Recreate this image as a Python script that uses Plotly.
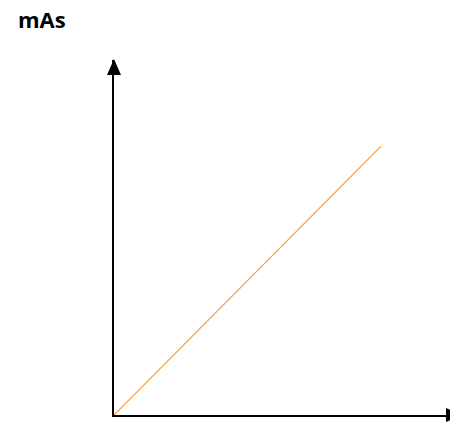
import plotly.graph_objects as go

# data: mAs rising linearly
x_vals = [0, 100]
y_vals = [0, 100]
y_label = "mAs"

W, H = 450, 423
left, right, top, bottom = 114, 0, 60, 8

fig = go.Figure()
fig.add_trace(go.Scatter(x=x_vals, y=y_vals, mode="lines",
                         line=dict(color="#f7993c", width=1.2),
                         hoverinfo="skip", showlegend=False))

fig.update_layout(
    width=W, height=H,
    margin=dict(l=left, r=right, t=top, b=bottom, pad=0),
    paper_bgcolor="white", plot_bgcolor="white",
    xaxis=dict(range=[0, 125.8], showgrid=False, zeroline=False, showticklabels=False,
               ticks="", showline=True, linecolor="black", linewidth=2, fixedrange=True),
    yaxis=dict(range=[0, 132], showgrid=False, zeroline=False, showticklabels=False,
               ticks="", showline=True, linecolor="black", linewidth=2, fixedrange=True),
    title=dict(text="<b>" + y_label + "</b>", x=18 / W, xanchor="left", xref="container",
               y=1 - 12.5 / H, yanchor="top", yref="container",
               font=dict(family="Open Sans", size=22, color="black")),
    shapes=[
        dict(type="path", xref="paper", yref="paper", xsizemode="pixel", ysizemode="pixel",
             xanchor=0, yanchor=1, path="M -7,-15 L 7,-15 L 0,1 Z",
             fillcolor="black", line=dict(width=0)),
        dict(type="path", xref="paper", yref="paper", xsizemode="pixel", ysizemode="pixel",
             xanchor=1, yanchor=0, path="M -4,-7 L -4,7 L 12,0 Z",
             fillcolor="black", line=dict(width=0)),
    ],
)

fig.write_html("out.html", config={"displayModeBar": False},
               post_script="document.body.style.margin='0';document.body.style.overflow='hidden';")
